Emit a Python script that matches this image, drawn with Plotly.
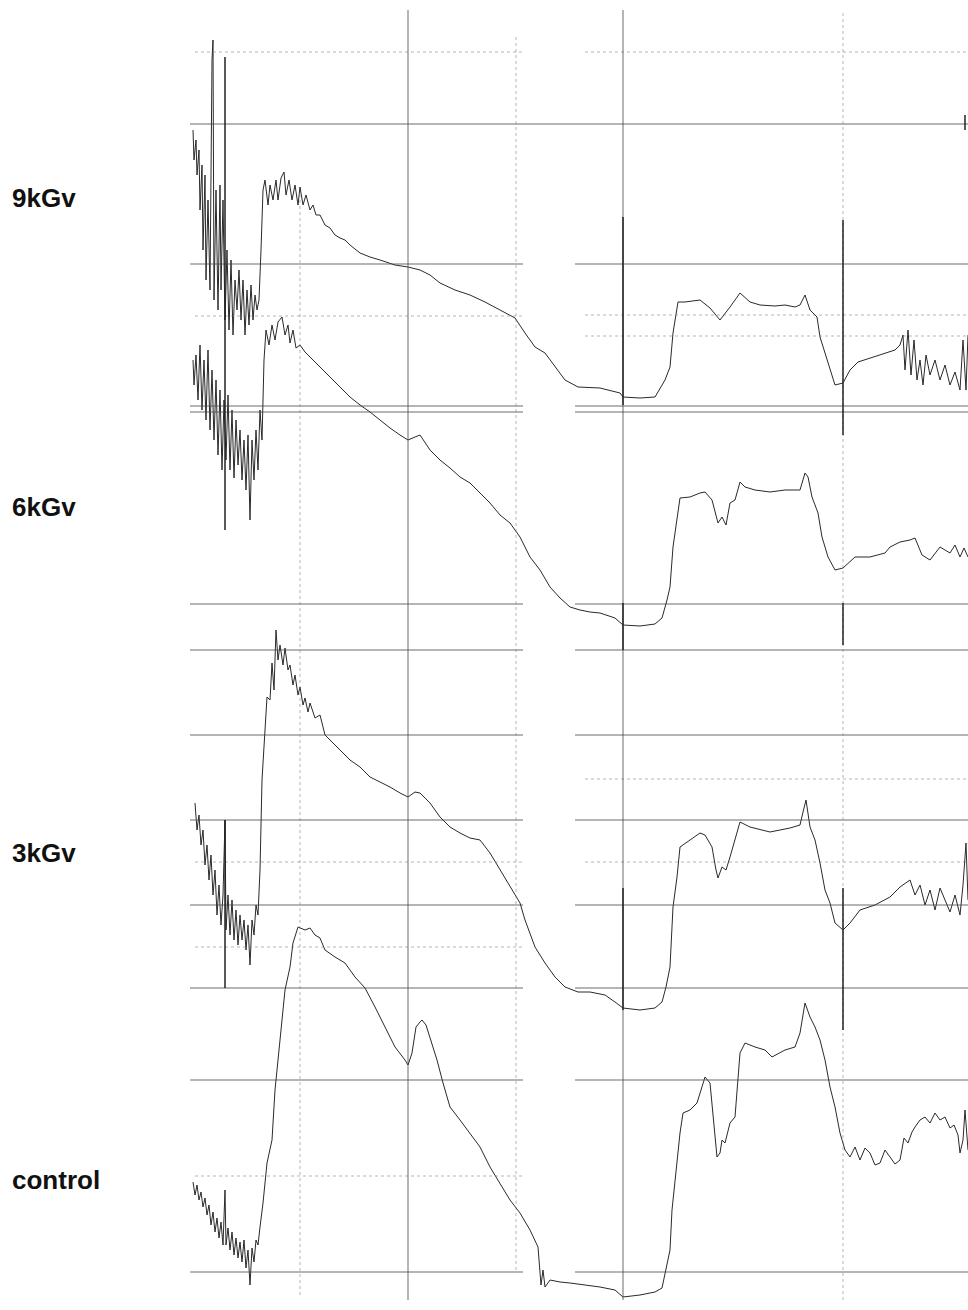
import plotly.graph_objects as go

# ---- time axis: seconds from start of run; chart level: recorder units ----
labels = ["9kGv", "6kGv", "3kGv", "control"]
label_levels = [1112, 803, 457, 130]

t_9k = [3, 4, 6, 7, 9, 10, 12, 13, 15, 16, 18, 20, 22, 23, 24, 26, 28, 30, 31, 33, 35, 37, 39, 41, 43, 45, 47, 49, 51, 53, 55, 57, 59, 61, 63, 65, 67, 69, 71, 73, 75, 78, 80, 83, 86, 88, 91, 94, 96, 99, 102, 105, 108, 110, 113, 116, 120, 123, 126, 130, 135, 140, 145, 150, 155, 160, 170, 180, 190, 205, 218, 230, 240, 250, 265, 280, 295, 310, 325, 335, 345, 355, 365, 375, 388, 410, 430, 433, 450, 465, 475, 480, 483, 488, 495, 510, 520, 530, 540, 550, 560, 570, 585, 595, 605, 610, 615, 620, 627, 630, 635, 640, 645, 653, 660, 668, 680, 695, 705, 710, 713, 715, 718, 721, 724, 727, 730, 733, 736, 740, 745, 750, 755, 760, 765, 770, 773, 776, 778]
v_9k = [1180, 1150, 1170, 1135, 1160, 1100, 1145, 1060, 1135, 1030, 1110, 1020, 1250, 1270, 1010, 1120, 1000, 1125, 1020, 1110, 990, 1060, 980, 1050, 975, 1030, 1000, 1040, 990, 1030, 975, 1020, 985, 1025, 990, 1015, 1000, 1010, 1060, 1120, 1130, 1105, 1125, 1110, 1130, 1110, 1132, 1138, 1115, 1130, 1110, 1125, 1105, 1123, 1105, 1115, 1100, 1105, 1095, 1095, 1085, 1082, 1075, 1072, 1070, 1065, 1057, 1053, 1050, 1045, 1043, 1040, 1035, 1027, 1020, 1015, 1008, 1000, 992, 977, 963, 957, 943, 930, 923, 922, 917, 913, 912, 913, 930, 943, 977, 1008, 1008, 1010, 1002, 990, 1003, 1017, 1008, 1005, 1004, 1005, 1003, 1005, 1015, 1000, 993, 973, 957, 940, 925, 927, 940, 948, 952, 957, 960, 965, 975, 940, 980, 935, 970, 930, 950, 925, 955, 935, 950, 930, 945, 925, 938, 920, 970, 920, 975]

t_6k = [3, 4, 6, 8, 10, 12, 14, 16, 18, 20, 22, 24, 26, 28, 30, 32, 34, 36, 38, 40, 42, 44, 46, 48, 50, 52, 54, 56, 58, 60, 62, 64, 66, 68, 70, 72, 74, 76, 79, 82, 85, 88, 92, 95, 98, 100, 103, 106, 110, 115, 120, 130, 140, 150, 160, 170, 180, 190, 200, 210, 218, 225, 230, 240, 250, 260, 270, 280, 290, 300, 310, 320, 330, 340, 350, 360, 370, 380, 390, 400, 410, 425, 433, 450, 465, 472, 477, 480, 483, 487, 490, 500, 510, 515, 522, 528, 532, 536, 540, 545, 550, 555, 565, 580, 595, 610, 615, 618, 622, 628, 632, 638, 645, 653, 665, 680, 695, 700, 710, 720, 725, 732, 740, 750, 760, 765, 770, 774, 778]
v_6k = [950, 925, 955, 910, 965, 900, 950, 890, 960, 880, 940, 870, 930, 855, 920, 840, 910, 850, 915, 840, 900, 832, 890, 845, 880, 830, 870, 820, 875, 790, 870, 830, 880, 840, 900, 870, 950, 980, 965, 985, 970, 988, 993, 975, 985, 967, 980, 962, 965, 958, 953, 943, 933, 923, 913, 905, 898, 890, 882, 875, 870, 873, 875, 860, 850, 842, 833, 827, 817, 807, 795, 787, 773, 753, 740, 723, 712, 703, 700, 698, 697, 692, 685, 684, 686, 692, 710, 723, 763, 793, 812, 813, 817, 818, 810, 787, 793, 785, 807, 810, 828, 823, 820, 818, 820, 820, 837, 833, 813, 797, 773, 753, 740, 742, 753, 753, 757, 763, 768, 770, 772, 755, 750, 763, 757, 765, 753, 762, 753]

t_3k = [5, 7, 9, 11, 13, 15, 17, 19, 21, 23, 25, 27, 29, 31, 33, 35, 36, 38, 40, 42, 44, 46, 48, 50, 52, 54, 56, 58, 60, 62, 64, 66, 68, 70, 72, 75, 77, 80, 82, 84, 86, 88, 90, 93, 95, 98, 100, 103, 105, 108, 110, 113, 115, 118, 120, 125, 130, 135, 140, 145, 150, 160, 170, 180, 190, 200, 210, 218, 225, 230, 240, 250, 260, 270, 280, 290, 300, 310, 320, 330, 335, 345, 355, 365, 375, 388, 400, 415, 425, 433, 450, 465, 472, 476, 480, 483, 487, 490, 500, 510, 515, 522, 526, 528, 532, 536, 540, 545, 550, 560, 580, 600, 610, 613, 616, 620, 625, 630, 635, 640, 645, 653, 660, 670, 685, 700, 710, 720, 725, 730, 735, 740, 745, 750, 755, 760, 765, 770, 773, 776, 778]
v_3k = [507, 480, 495, 465, 480, 445, 465, 430, 455, 415, 440, 395, 425, 385, 415, 490, 380, 415, 375, 410, 370, 400, 365, 395, 370, 390, 360, 385, 345, 390, 375, 405, 395, 440, 530, 577, 613, 610, 647, 620, 680, 650, 665, 645, 662, 640, 645, 625, 635, 615, 623, 605, 612, 598, 607, 592, 595, 575, 570, 565, 560, 550, 543, 533, 528, 523, 517, 513, 518, 517, 507, 493, 483, 477, 472, 470, 457, 440, 423, 407, 390, 363, 347, 333, 323, 318, 318, 315, 308, 302, 300, 302, 308, 323, 343, 403, 433, 463, 470, 477, 475, 463, 440, 432, 443, 440, 453, 470, 488, 483, 478, 482, 485, 498, 510, 483, 470, 447, 420, 407, 387, 380, 387, 400, 405, 413, 423, 430, 415, 425, 405, 420, 400, 422, 410, 398, 415, 395, 425, 467, 410]

t_ctl = [3, 5, 7, 9, 11, 13, 15, 17, 19, 21, 23, 25, 27, 29, 31, 33, 35, 36, 38, 40, 42, 44, 46, 48, 50, 52, 54, 56, 58, 60, 62, 64, 66, 68, 70, 73, 77, 82, 85, 88, 92, 95, 100, 103, 108, 115, 120, 125, 130, 135, 145, 155, 165, 175, 185, 195, 205, 215, 218, 222, 226, 230, 232, 236, 240, 247, 253, 260, 270, 280, 290, 300, 310, 320, 330, 340, 348, 351, 353, 355, 360, 370, 380, 395, 410, 425, 433, 450, 465, 472, 476, 480, 482, 486, 490, 493, 500, 507, 515, 520, 523, 527, 530, 532, 535, 540, 545, 548, 550, 555, 565, 575, 582, 595, 605, 610, 615, 620, 625, 630, 635, 640, 645, 650, 655, 660, 665, 670, 675, 680, 685, 690, 695, 700, 705, 710, 714, 718, 722, 725, 730, 735, 740, 745, 750, 755, 760, 764, 768, 770, 773, 775, 778]
v_ctl = [128, 115, 125, 110, 118, 103, 112, 95, 105, 85, 98, 78, 92, 72, 88, 65, 120, 65, 82, 60, 78, 55, 72, 52, 68, 48, 70, 42, 60, 25, 62, 48, 70, 65, 83, 107, 147, 170, 220, 250, 290, 320, 343, 367, 383, 380, 382, 375, 372, 360, 353, 347, 333, 322, 303, 283, 263, 250, 245, 257, 283, 288, 290, 285, 273, 250, 227, 203, 190, 177, 163, 143, 127, 110, 97, 80, 63, 25, 40, 23, 30, 28, 27, 25, 23, 20, 13, 15, 18, 22, 43, 60, 100, 140, 177, 197, 200, 207, 233, 227, 197, 153, 157, 170, 167, 187, 193, 230, 257, 267, 263, 260, 253, 260, 263, 277, 307, 293, 283, 270, 250, 223, 203, 177, 160, 153, 163, 150, 162, 157, 145, 147, 160, 153, 146, 150, 172, 167, 178, 183, 190, 193, 187, 197, 190, 193, 182, 185, 175, 157, 170, 200, 160]

# ---- recorder grid ----
x_min, x_max = -190, 778
y_min, y_max = 0, 1310
gap_start, gap_end = 333, 385          # paper join between the two chart sheets

solid_full = [1186]                    # continuous rule across both sheets
solid_split = [1046, 904, 898, 706, 660, 575, 490, 405, 322, 230, 38]
dotted_left = [1258, 994, 448, 363, 134]
dotted_right = [1258, 995, 974, 531, 448]

v_solid = [218, 433]
v_dotted = [110, 326, 653]
v_dotted_span = [(15, 1115), (40, 1275), (10, 1300)]

# pen-marker strokes drawn by the recorder
marker_x = [35, 35, 433, 433, 433, 653, 653, 653, 775]
marker_y0 = [780, 322, 905, 660, 300, 875, 665, 280, 1180]
marker_y1 = [1253, 490, 1093, 707, 422, 1090, 707, 422, 1195]

grid_solid = "rgba(70,70,70,0.8)"
grid_dot = "rgba(120,120,120,0.55)"
ink = "#2a2a2a"

fig = go.Figure()

series = [(t_9k, v_9k), (t_6k, v_6k), (t_3k, v_3k), (t_ctl, v_ctl)]
for name, (t, v) in zip(labels, series):
    fig.add_trace(go.Scatter(x=t, y=v, mode="lines", name=name,
                             line=dict(color=ink, width=1), showlegend=False,
                             hoverinfo="skip"))

shapes = []
for y in solid_full:
    shapes.append(dict(type="line", x0=0, x1=x_max, y0=y, y1=y,
                       line=dict(color=grid_solid, width=1)))
for y in solid_split:
    shapes.append(dict(type="line", x0=0, x1=gap_start, y0=y, y1=y,
                       line=dict(color=grid_solid, width=1)))
    shapes.append(dict(type="line", x0=gap_end, x1=x_max, y0=y, y1=y,
                       line=dict(color=grid_solid, width=1)))
for y in dotted_left:
    shapes.append(dict(type="line", x0=5, x1=gap_start, y0=y, y1=y,
                       line=dict(color=grid_dot, width=1, dash="dot")))
for y in dotted_right:
    shapes.append(dict(type="line", x0=gap_end + 10, x1=x_max, y0=y, y1=y,
                       line=dict(color=grid_dot, width=1, dash="dot")))
for x in v_solid:
    shapes.append(dict(type="line", x0=x, x1=x, y0=10, y1=1300,
                       line=dict(color=grid_solid, width=1)))
for x, (y0, y1) in zip(v_dotted, v_dotted_span):
    shapes.append(dict(type="line", x0=x, x1=x, y0=y0, y1=y1,
                       line=dict(color=grid_dot, width=1, dash="dot")))
for x, y0, y1 in zip(marker_x, marker_y0, marker_y1):
    shapes.append(dict(type="line", x0=x, x1=x, y0=y0, y1=y1,
                       line=dict(color="#222", width=1.5)))

annotations = []
for name, lvl in zip(labels, label_levels):
    annotations.append(dict(text="<b>%s</b>" % name, x=10 / 968, xref="paper",
                            xanchor="left", y=lvl, yref="y", yanchor="middle",
                            showarrow=False,
                            font=dict(family="Liberation Sans, Arial, sans-serif",
                                      size=26, color="#111")))

fig.update_layout(
    width=968, height=1310,
    margin=dict(l=0, r=0, t=0, b=0),
    paper_bgcolor="white", plot_bgcolor="white",
    xaxis=dict(range=[x_min, x_max], visible=False, fixedrange=True),
    yaxis=dict(range=[y_min, y_max], visible=False, fixedrange=True),
    shapes=shapes, annotations=annotations,
)

fig.write_html("out.html")
